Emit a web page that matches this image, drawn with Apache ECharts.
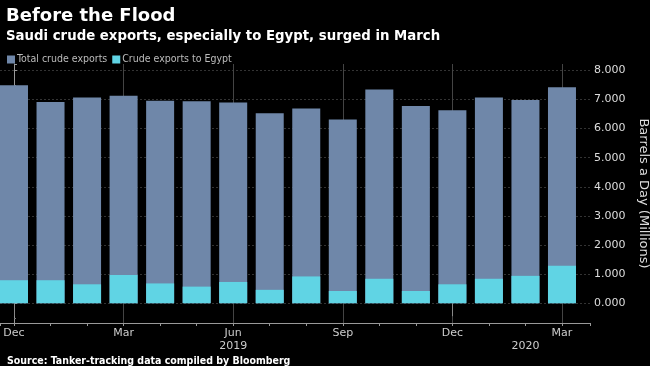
<!DOCTYPE html>
<html>
<head>
<meta charset="utf-8">
<script src="https://cdn.jsdelivr.net/npm/echarts@6/dist/echarts.min.js"></script>
<style>
html,body{margin:0;padding:0;background:#000;}
#c{width:650px;height:366px;}
</style>
</head>
<body>
<div id="c"></div>
<script>
// Months from Dec 2018 to Mar 2020
const months = ['Dec','Jan','Feb','Mar','Apr','May','Jun','Jul','Aug','Sep','Oct','Nov','Dec','Jan','Feb','Mar'];
const totalExports = [7.49, 6.91, 7.07, 7.13, 6.96, 6.94, 6.90, 6.53, 6.69, 6.31, 7.34, 6.78, 6.63, 7.07, 6.98, 7.42];
const egyptExports = [0.79, 0.79, 0.65, 0.97, 0.68, 0.57, 0.73, 0.46, 0.92, 0.42, 0.84, 0.42, 0.65, 0.84, 0.94, 1.29];
const quarterLabelIdx = [0, 3, 6, 9, 12, 15];
const yearLabels = [{idx: 6, text: '2019'}, {idx: 14, text: '2020'}];
const yearSepIdx = [0, 12];

const toPairs = arr => arr.map((v, i) => [i, v]);

const chart = echarts.init(document.getElementById('c'), null, {renderer: 'canvas'});
const xMin = -0.3832, xMax = 15.767;
const yMin = -0.68, yMax = 8.22;

const option = {
  backgroundColor: '#000',
  animation: false,
  title: [
    {text: 'Before the Flood', left: 1, top: 2,
     textStyle: {color: '#fff', fontSize: 18, fontWeight: 'bold', fontFamily: 'DejaVu Sans'}},
    {text: 'Saudi crude exports, especially to Egypt, surged in March', left: 1, top: 25,
     textStyle: {color: '#fff', fontSize: 13.3, fontWeight: 'bold', fontFamily: 'DejaVu Sans'}},
    {text: 'Source: Tanker-tracking data compiled by Bloomberg', left: 2, top: 351,
     textStyle: {color: '#fff', fontSize: 10.5, fontWeight: 'bold', fontFamily: 'DejaVu Sans Condensed'}}
  ],
  legend: {
    left: 2, top: 49, itemWidth: 8, itemHeight: 8, itemGap: 5, icon: 'rect',
    textStyle: {color: '#bbb', fontSize: 10.5, fontFamily: 'DejaVu Sans Condensed', padding: [0, 0, 0, -3]},
    data: ['Total crude exports', 'Crude exports to Egypt']
  },
  grid: {left: 0, right: 60, top: 64, bottom: 43, containLabel: false, outerBoundsMode: 'none'},
  xAxis: [
    {
      type: 'value', min: xMin, max: xMax, splitNumber: 16,
      axisLine: {show: true, onZero: false, lineStyle: {color: '#999', width: 1}},
      axisTick: {show: true, length: 3, lineStyle: {color: '#999'}},
      axisLabel: {
        color: '#ccc', fontSize: 11, fontFamily: 'DejaVu Sans', margin: 5,
        formatter: v => {
          const r = Math.round(v);
          if (Math.abs(v - r) > 1e-6) return '';
          return quarterLabelIdx.indexOf(r) >= 0 ? months[r] : '';
        }
      },
      splitLine: {show: true, lineStyle: {color: ['transparent', '#444', 'transparent'], width: 1}}
    },
    {
      type: 'value', min: xMin, max: xMax, position: 'bottom', offset: 17,
      axisLine: {show: false},
      axisTick: {show: true, customValues: yearSepIdx, length: 13, lineStyle: {color: '#888'}},
      axisLabel: {
        show: true, customValues: yearLabels.map(d => d.idx), margin: 1,
        color: '#ccc', fontSize: 11, fontFamily: 'DejaVu Sans',
        formatter: v => { const f = yearLabels.find(d => Math.abs(d.idx - v) < 1e-6); return f ? f.text : ''; }
      },
      splitLine: {show: false}
    }
  ],
  yAxis: {
    type: 'value', position: 'right', min: yMin, max: yMax, splitNumber: 9,
    name: 'Barrels a Day (Millions)', nameLocation: 'middle', nameRotate: -90, nameGap: 39,
    nameTextStyle: {color: '#ddd', fontSize: 13, fontFamily: 'DejaVu Sans'},
    axisLine: {show: true, lineStyle: {color: '#999'}},
    axisTick: {show: true, length: 3, lineStyle: {color: '#999'}},
    minorTick: {show: true, splitNumber: 2, length: 2, lineStyle: {color: '#777'}},
    axisLabel: {
      color: '#ddd', fontSize: 11, fontFamily: 'DejaVu Sans', margin: 4,
      formatter: v => {
        const r = Math.round(v);
        if (Math.abs(v - r) > 1e-6 || r < 0) return '';
        return r.toFixed(3);
      }
    },
    splitLine: {show: true, lineStyle: {color: ['transparent','#333','#333','#333','#333','#333','#333','#333','#333','#333','transparent'], type: [2, 2], width: 1}}
  },
  series: [
    {
      name: 'Total crude exports', type: 'bar', barWidth: 28, barGap: '-100%',
      itemStyle: {color: '#6f87a9'},
      data: toPairs(totalExports), z: 2
    },
    {
      name: 'Crude exports to Egypt', type: 'bar', barWidth: 28, barGap: '-100%',
      itemStyle: {color: '#60d4e4'},
      data: toPairs(egyptExports), z: 3
    }
  ]
};
chart.setOption(option);
</script>
</body>
</html>
